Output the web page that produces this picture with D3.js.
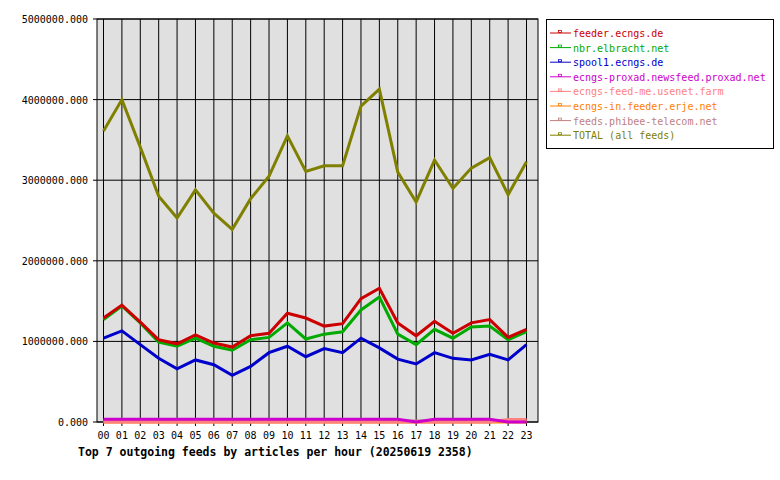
<!DOCTYPE html>
<html><head><meta charset="utf-8">
<script src="https://cdn.jsdelivr.net/npm/d3@7"></script>
<style>body{margin:0;background:#fff}text{font-family:"DejaVu Sans Mono",monospace;font-size:10px}</style>
</head><body><svg id="c" width="780" height="480"></svg>
<script>
const hours = ["00","01","02","03","04","05","06","07","08","09","10","11","12","13","14","15","16","17","18","19","20","21","22","23"];
const yTicks = [0,1000000,2000000,3000000,4000000,5000000];
const seriesNames = ["feeder.ecngs.de","nbr.elbracht.net","spool1.ecngs.de","ecngs-proxad.newsfeed.proxad.net","ecngs-feed-me.usenet.farm","ecngs-in.feeder.erje.net","feeds.phibee-telecom.net","TOTAL (all feeds)"];
const seriesColors = ["#cc0000","#00aa00","#0000cc","#cc00cc","#ff8080","#ff8000","#c08080","#808000"];
const feeder = [1290000,1450000,1240000,1020000,970000,1080000,980000,930000,1070000,1100000,1350000,1290000,1190000,1220000,1530000,1660000,1230000,1070000,1250000,1100000,1230000,1270000,1050000,1150000];
const nbr = [1270000,1440000,1230000,990000,940000,1040000,940000,890000,1020000,1050000,1230000,1030000,1090000,1120000,1390000,1550000,1090000,960000,1150000,1040000,1180000,1190000,1020000,1120000];
const spool1 = [1040000,1130000,960000,790000,660000,770000,710000,580000,690000,860000,940000,810000,910000,860000,1040000,920000,780000,720000,860000,790000,770000,840000,770000,960000];
const proxad = [35000,35000,35000,35000,35000,35000,35000,35000,35000,35000,35000,35000,35000,35000,35000,35000,35000,0,35000,35000,35000,35000,0,0];
const feedme = [0,0,0,0,0,0,0,0,0,0,0,0,0,0,0,0,0,0,0,0,0,0,30000,30000];
const erje = [0,0,0,0,0,0,0,0,0,0,0,0,0,0,0,0,0,0,0,0,0,0,0,0];
const phibee = [12000,12000,12000,12000,12000,12000,12000,12000,12000,12000,12000,12000,12000,12000,12000,12000,12000,12000,12000,12000,12000,12000,12000,12000];
const total = [3610000,4000000,3410000,2800000,2530000,2880000,2590000,2390000,2770000,3050000,3550000,3110000,3180000,3180000,3920000,4130000,3100000,2730000,3250000,2900000,3150000,3280000,2820000,3230000];
const seriesData = [feeder,nbr,spool1,proxad,feedme,erje,phibee,total];

const svg = d3.select("#c");
const L=97,R=538,T=19,B=422;
const x = d3.scalePoint().domain(hours).range([103.5,526.5]);
const y = d3.scaleLinear().domain([0,5000000]).range([B,T]);
svg.append("rect").attr("x",L).attr("y",T).attr("width",R-L).attr("height",B-T).attr("fill","#e0e0e0").attr("stroke","#000");
svg.append("g").selectAll("line").data(hours).join("line").attr("x1",d=>x(d)).attr("x2",d=>x(d)).attr("y1",T).attr("y2",B+4).attr("stroke","#000");
svg.append("g").selectAll("line").data(yTicks).join("line").attr("x1",L-4).attr("x2",R).attr("y1",d=>y(d)).attr("y2",d=>y(d)).attr("stroke","#000");
svg.append("g").selectAll("text").data(yTicks).join("text").attr("x",L-9).attr("y",d=>y(d)+4).attr("text-anchor","end").text(d=>d3.format(".3f")(d));
svg.append("g").selectAll("text").data(hours).join("text").attr("x",d=>x(d)).attr("y",B+17).attr("text-anchor","middle").text(d=>d);
const line = d3.line().x((d,i)=>x(hours[i])).y(d=>y(d));
[6,5,4,3,2,1,0,7].forEach(k=>{
  svg.append("path").attr("d",line(seriesData[k])).attr("fill","none").attr("stroke",seriesColors[k]).attr("stroke-width",3);
});
svg.append("text").attr("x",78).attr("y",456).attr("font-weight","bold").style("font-size","11.5px").text("Top 7 outgoing feeds by articles per hour (20250619 2358)");
const lg = svg.append("g");
lg.append("rect").attr("x",546.5).attr("y",19.5).attr("width",227).attr("height",129).attr("fill","#fff").attr("stroke","#000");
seriesNames.forEach((n,i)=>{
  const yy=33+i*14.6;
  lg.append("line").attr("x1",550).attr("x2",571).attr("y1",yy).attr("y2",yy).attr("stroke",seriesColors[i]);
  lg.append("rect").attr("x",558.5).attr("y",yy-2.5).attr("width",3).attr("height",2).attr("fill","none").attr("stroke",seriesColors[i]).attr("stroke-width",0.8);
  lg.append("text").attr("x",573).attr("y",yy+4).attr("fill",seriesColors[i]).text(n);
});
</script></body></html>
